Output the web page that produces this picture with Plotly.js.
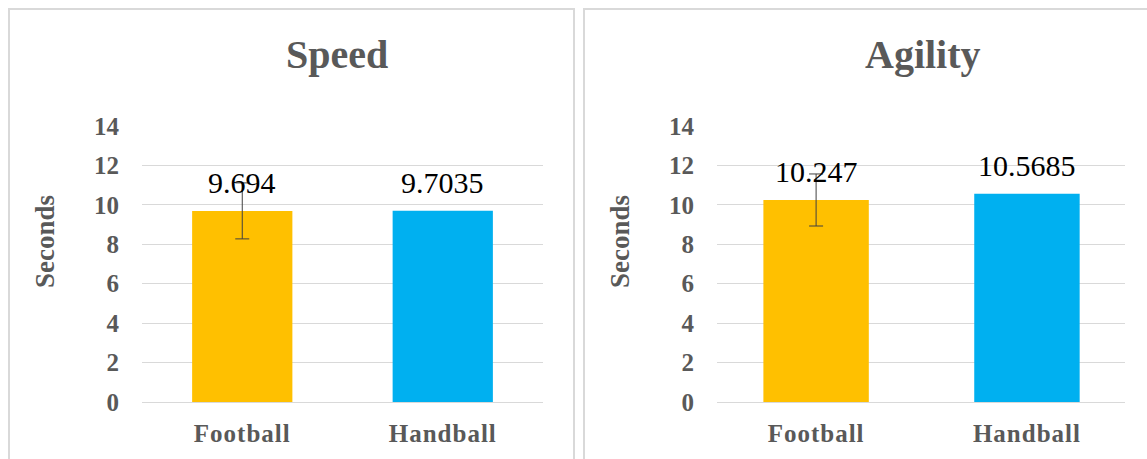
<!DOCTYPE html>
<html>
<head>
<meta charset="utf-8">
<script src="https://cdn.plot.ly/plotly-3.0.1.min.js"></script>
<style>
html,body{margin:0;padding:0;background:#fff;}
#chart{width:1147px;height:459px;}
#chart .xtick text, #chart .x2tick text{letter-spacing:1px;}
</style>
</head>
<body>
<div id="chart"></div>
<script>
const categories = ['Football', 'Handball'];
const panelTitles = ['Speed', 'Agility'];
const yAxisTitle = 'Seconds';
const speedValues = [9.694, 9.7035];
const speedErrors = [1.42, 0];
const agilityValues = [10.247, 10.5685];
const agilityErrors = [1.32, 0];
const speedLabels = ['9.694', '9.7035'];
const agilityLabels = ['10.247', '10.5685'];
const yTicks = [0, 2, 4, 6, 8, 10, 12, 14];
const barColors = ['#FFC000', '#00B0F0'];

const W = 1147, H = 459;
const serif = 'Liberation Serif';
const gray = '#595959';

const data = [];
function addBars(vals, errs, xa, ya) {
  categories.forEach((c, i) => {
    const t = {
      type: 'bar', x: [c], y: [vals[i]], xaxis: xa, yaxis: ya,
      marker: {color: barColors[i]},
      hoverinfo: 'skip', showlegend: false
    };
    if (errs[i] > 0) {
      t.error_y = {type: 'data', array: [errs[i]], visible: true, color: '#404040', thickness: 1, width: 7};
    }
    data.push(t);
  });
}
addBars(speedValues, speedErrors, 'x', 'y');
addBars(agilityValues, agilityErrors, 'x2', 'y2');

function yax(anchor) {
  return {
    domain: [1 - 402 / H, 1 - 126 / H], anchor: anchor,
    range: [0, 14], tickvals: yTicks, showgrid: true, gridcolor: '#D9D9D9', gridwidth: 1,
    zeroline: false, showline: false, ticks: '',
    ticklabelstandoff: 22,
    tickfont: {family: serif, size: 25, color: gray, weight: 'bold'}
  };
}
function xax(d, anchor, range) {
  const a = {
    domain: d, anchor: anchor, showgrid: false, zeroline: false,
    showline: true, linecolor: '#D9D9D9', linewidth: 1, ticks: '',
    ticklabelstandoff: 9,
    tickfont: {family: serif, size: 25, color: gray, weight: 'bold'}
  };
  if (range) a.range = range;
  return a;
}

const annotations = [];
function addLabels(vals, labels, xref, yref) {
  vals.forEach((v, i) => annotations.push({
    x: categories[i], y: v, xref: xref, yref: yref, text: labels[i], showarrow: false,
    yanchor: 'middle', yshift: 28, font: {family: serif, size: 30, color: '#000'}
  }));
}
addLabels(speedValues, speedLabels, 'x', 'y');
addLabels(agilityValues, agilityLabels, 'x2', 'y2');
[[337, panelTitles[0]], [923, panelTitles[1]]].forEach(([px, t]) => annotations.push({
  xref: 'paper', yref: 'paper', x: px / W, y: 1 - 55 / H, text: t, showarrow: false,
  xanchor: 'center', yanchor: 'middle', font: {family: serif, size: 40, color: gray, weight: 'bold'}
}));
[45, 620].forEach(px => annotations.push({
  xref: 'paper', yref: 'paper', x: px / W, y: 1 - 242 / H, text: yAxisTitle, showarrow: false,
  textangle: -90, xanchor: 'center', yanchor: 'middle',
  font: {family: serif, size: 27, color: gray, weight: 'bold'}
}));

const bc = '#D9D9D9';
function pl(x0, y0, x1, y1) {
  return {type: 'line', xref: 'paper', yref: 'paper', x0: x0 / W, x1: x1 / W, y0: 1 - y0 / H, y1: 1 - y1 / H,
    line: {color: bc, width: 2}, layer: 'below'};
}
const shapes = [
  pl(9, 8, 9, 459), pl(8, 9, 574, 9), pl(574, 8, 574, 459),
  pl(584, 8, 584, 459), pl(583, 9, 1147, 9)
];

const layout = {
  width: W, height: H, margin: {l: 0, r: 0, t: 0, b: 0},
  paper_bgcolor: '#fff', plot_bgcolor: 'rgba(0,0,0,0)',
  barmode: 'overlay', bargap: 0.5,
  xaxis: xax([142 / W, 543 / W], 'y'),
  yaxis: yax('x'),
  xaxis2: xax([717 / W, 1125 / W], 'y2', [-0.47, 1.465]),
  yaxis2: yax('x2'),
  annotations: annotations, shapes: shapes
};

Plotly.newPlot('chart', data, layout, {displayModeBar: false, staticPlot: true});
</script>
</body>
</html>
